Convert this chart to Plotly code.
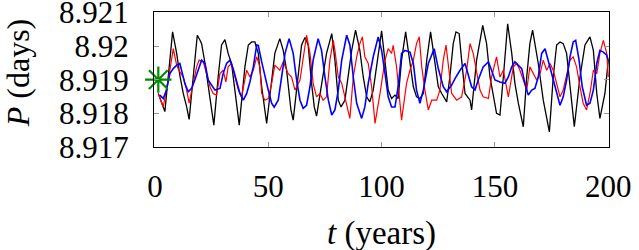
import plotly.graph_objects as go

# ---- data ----
t_black = [1.5, 4.4, 7.8, 9.6, 11.0, 12.5, 14.0, 15.1, 16.9, 18.7, 19.9, 20.6, 22.1, 23.5, 25.0, 26.0,
           27.9, 29.4, 30.9, 32.3, 33.8, 35.3, 37.2, 39.7, 41.2, 42.7, 44.1, 45.6, 47.1, 49.3, 51.5,
           52.9, 55.1, 56.6, 58.1, 60.0, 61.0, 63.2, 64.7, 66.2, 67.6, 69.1, 70.3, 71.3, 73.5, 75.7,
           78.0, 79.4, 80.9, 82.1, 83.8, 85.3, 86.8, 88.5, 90.4, 91.9, 93.4, 94.8, 96.3, 100.0, 101.5,
           102.9, 104.4, 105.9, 107.3, 108.8, 110.6, 112.5, 114.0, 115.4, 116.9, 118.4, 119.9, 121.6,
           123.5, 125.0, 126.5, 128.7, 130.1, 131.6, 132.8, 134.2, 135.3, 136.8, 139.0, 139.7, 141.9,
           144.6, 146.3, 147.8, 150.7, 152.2, 153.7, 154.7, 155.6, 157.4, 158.8, 160.3, 162.5, 164.0,
           165.4, 166.6, 167.6, 169.1, 171.3, 174.0, 175.7, 177.2, 178.7, 180.1, 181.6, 183.1, 185.0,
           187.5, 189.7, 191.9, 193.4, 194.9, 196.3, 198.5, 200.0]
p_black = [8.91859, 8.91805, 8.92042, 8.91978, 8.91913, 8.91859, 8.91819, 8.91782, 8.91908, 8.92032,
           8.92017, 8.92007, 8.91948, 8.91879, 8.91810, 8.91765, 8.91908, 8.92003, 8.92019, 8.91978,
           8.91948, 8.91859, 8.91765, 8.91938, 8.92003, 8.92012, 8.92012, 8.91978, 8.91879, 8.91770,
           8.91908, 8.91978, 8.92022, 8.91987, 8.91928, 8.91810, 8.91780, 8.91908, 8.92003, 8.92025,
           8.92003, 8.91889, 8.91819, 8.91792, 8.91889, 8.91978, 8.92037, 8.91958, 8.91839, 8.91819,
           8.91839, 8.91908, 8.91987, 8.92047, 8.91987, 8.91908, 8.91849, 8.91834, 8.91869, 8.92045,
           8.91958, 8.91869, 8.91844, 8.91854, 8.91844, 8.91958, 8.92042, 8.91958, 8.91879, 8.91849,
           8.91844, 8.91859, 8.91958, 8.92042, 8.91958, 8.91879, 8.91859, 8.91834, 8.91908, 8.92007,
           8.92042, 8.92037, 8.91958, 8.91859, 8.91839, 8.91810, 8.91958, 8.92061, 8.92007, 8.91908,
           8.91800, 8.91795, 8.91908, 8.92007, 8.92066, 8.91978, 8.91889, 8.91830, 8.91760, 8.91908,
           8.92007, 8.92047, 8.92012, 8.91948, 8.91839, 8.91745, 8.91908, 8.92003, 8.92012, 8.92007,
           8.91978, 8.91879, 8.91760, 8.91908, 8.92003, 8.92027, 8.91987, 8.91859, 8.91785, 8.91859,
           8.91958]

t_red = [1.5, 3.7, 6.6, 8.1, 9.6, 11.0, 12.5, 14.0, 15.1, 16.9, 18.4, 19.5, 21.3, 22.8, 24.3, 25.7,
         27.2, 28.7, 30.1, 31.3, 32.3, 33.8, 35.3, 36.8, 38.2, 40.5, 41.9, 43.4, 44.9, 46.3, 47.1,
         48.5, 50.0, 51.5, 52.9, 55.1, 56.6, 58.8, 60.3, 61.8, 64.0, 65.4, 66.9, 68.4, 69.8, 71.3,
         72.8, 74.2, 75.7, 77.2, 78.7, 79.4, 80.9, 82.4, 83.8, 86.0, 87.5, 89.0, 90.4, 91.5, 92.6,
         94.1, 95.6, 97.1, 99.3, 101.5, 102.9, 104.4, 105.1, 106.6, 108.1, 108.8, 111.0, 112.5,
         114.0, 115.4, 116.6, 117.7, 119.1, 120.6, 122.1, 124.3, 125.7, 127.2, 128.4, 129.4, 130.9,
         133.1, 135.3, 137.5, 139.0, 140.4, 141.9, 143.4, 144.8, 147.1, 148.5, 150.7, 152.2, 153.7,
         155.9, 158.1, 159.6, 161.0, 162.5, 164.0, 165.4, 166.9, 168.4, 169.9, 171.3, 172.8, 174.3,
         175.7, 177.2, 178.7, 180.1, 181.6, 183.1, 184.5, 186.0, 187.5, 188.9, 190.4, 191.9, 193.4,
         194.9, 196.3, 197.8, 199.3, 200.0]
p_red = [8.91859, 8.91819, 8.91928, 8.91992, 8.91943, 8.91923, 8.91908, 8.91869, 8.91830, 8.91889,
         8.91938, 8.91958, 8.91953, 8.91918, 8.91879, 8.91859, 8.91854, 8.91918, 8.91928, 8.91893,
         8.91938, 8.91948, 8.91908, 8.91869, 8.91849, 8.91928, 8.91908, 8.91928, 8.91968, 8.91938,
         8.91859, 8.91839, 8.91844, 8.91889, 8.91943, 8.91928, 8.91953, 8.91918, 8.91908, 8.91869,
         8.91899, 8.91958, 8.92032, 8.91978, 8.91889, 8.91849, 8.91859, 8.91839, 8.91849, 8.91958,
         8.92017, 8.91987, 8.91908, 8.91889, 8.91849, 8.91785, 8.91908, 8.91968, 8.92007, 8.92027,
         8.91968, 8.91948, 8.91879, 8.91770, 8.91859, 8.91958, 8.91992, 8.91978, 8.92002, 8.91938,
         8.91830, 8.91780, 8.91889, 8.91928, 8.91958, 8.92007, 8.92027, 8.91938, 8.91869, 8.91810,
         8.91839, 8.91839, 8.91869, 8.91958, 8.92003, 8.91948, 8.91859, 8.91839, 8.91849, 8.91928,
         8.92007, 8.91978, 8.91918, 8.91869, 8.91849, 8.91844, 8.91908, 8.91968, 8.91908, 8.91928,
         8.91849, 8.91938, 8.91948, 8.91928, 8.91899, 8.91869, 8.91938, 8.91918, 8.91899, 8.91918,
         8.91958, 8.91928, 8.91948, 8.91928, 8.91889, 8.91849, 8.91869, 8.91918, 8.91958, 8.91968,
         8.91938, 8.91879, 8.91830, 8.91810, 8.91859, 8.91928, 8.91918, 8.91978, 8.92017, 8.91978,
         8.91908]

t_blue = [2.2, 3.7, 5.1, 6.6, 8.1, 9.6, 11.0, 12.2, 13.2, 14.7, 16.2, 17.6, 19.1, 20.6, 22.1, 23.5,
          25.0, 26.5, 28.7, 30.1, 31.6, 33.1, 34.5, 36.0, 37.5, 39.0, 40.5, 41.9, 43.4, 44.9, 45.6,
          47.1, 48.5, 50.0, 51.5, 52.6, 54.4, 55.9, 57.4, 59.2, 61.0, 62.5, 64.0, 65.4, 66.9, 68.4,
          69.8, 72.0, 73.5, 75.0, 76.5, 78.0, 79.4, 80.9, 82.4, 84.6, 86.0, 87.5, 89.0, 91.2, 92.6,
          94.1, 96.3, 98.5, 100.0, 101.5, 102.9, 104.4, 105.9, 107.3, 108.8, 110.3, 112.5, 114.0,
          115.4, 116.9, 118.4, 120.6, 123.2, 125.0, 127.2, 128.7, 130.9, 132.8, 134.6, 136.8, 138.2,
          139.7, 141.2, 142.6, 144.8, 147.1, 148.5, 150.0, 152.2, 154.4, 155.9, 157.4, 158.8, 160.3,
          161.8, 163.2, 164.7, 166.2, 167.6, 169.1, 170.6, 172.1, 173.5, 175.0, 176.5, 178.7, 180.1,
          181.6, 183.1, 184.5, 185.6, 187.1, 188.5, 190.4, 191.9, 193.4, 194.9, 196.3, 197.8, 199.3,
          200.0]
p_blue = [8.91854, 8.91844, 8.91869, 8.91918, 8.91933, 8.91943, 8.91948, 8.91918, 8.91889, 8.91864,
          8.91874, 8.91899, 8.91928, 8.91958, 8.91948, 8.91899, 8.91884, 8.91869, 8.91874, 8.91918,
          8.91948, 8.91958, 8.91933, 8.91893, 8.91859, 8.91839, 8.91859, 8.91893, 8.91938, 8.92003,
          8.92002, 8.91953, 8.91908, 8.91869, 8.91830, 8.91818, 8.91839, 8.91908, 8.91978, 8.92022,
          8.91978, 8.91899, 8.91839, 8.91815, 8.91824, 8.91879, 8.91958, 8.92022, 8.91987, 8.91908,
          8.91839, 8.91795, 8.91810, 8.91869, 8.91958, 8.92032, 8.92003, 8.91908, 8.91830, 8.91785,
          8.91819, 8.91889, 8.91968, 8.92027, 8.91987, 8.91918, 8.91849, 8.91819, 8.91819, 8.91879,
          8.91978, 8.91987, 8.91982, 8.91948, 8.91869, 8.91830, 8.91869, 8.91948, 8.91992, 8.91933,
          8.91879, 8.91864, 8.91884, 8.91908, 8.91928, 8.91948, 8.91913, 8.91879, 8.91869, 8.91899,
          8.91938, 8.91953, 8.91928, 8.91899, 8.91893, 8.91889, 8.91908, 8.91938, 8.91953, 8.91943,
          8.91933, 8.91889, 8.91854, 8.91869, 8.91874, 8.91908, 8.91978, 8.91992, 8.91958, 8.91918,
          8.91879, 8.91824, 8.91849, 8.91899, 8.91968, 8.92012, 8.92017, 8.91958, 8.91879, 8.91824,
          8.91830, 8.91869, 8.91948, 8.91987, 8.91982, 8.91973, 8.91958]

t_start = [1.5]
p_start = [8.919]

x_ticks = [0, 50, 100, 150, 200]
x_tick_labels = ["0", "50", "100", "150", "200"]
y_ticks = [8.917, 8.918, 8.919, 8.920, 8.921]
y_tick_labels = ["8.917", "8.918", "8.919", "8.92", "8.921"]

FONT = "Liberation Serif"

fig = go.Figure()
fig.add_trace(go.Scatter(x=t_black, y=p_black, mode="lines",
                         line=dict(color="black", width=1.3), showlegend=False))
fig.add_trace(go.Scatter(x=t_red, y=p_red, mode="lines",
                         line=dict(color="#ff0000", width=1.2), showlegend=False))
fig.add_trace(go.Scatter(x=t_blue, y=p_blue, mode="lines",
                         line=dict(color="#0000ff", width=1.6), showlegend=False))
fig.add_trace(go.Scatter(x=t_start, y=p_start, mode="markers",
                         marker=dict(symbol="asterisk-open", size=22, color="#008c00",
                                     line=dict(color="#008c00", width=2.2)),
                         cliponaxis=False, showlegend=False))

fig.update_layout(
    width=639, height=250,
    margin=dict(l=154, r=30, t=12, b=103),
    paper_bgcolor="white", plot_bgcolor="white",
    font=dict(family=FONT, size=31, color="black"),
    xaxis=dict(range=[-0.4, 200.3], tickvals=x_ticks, ticktext=x_tick_labels,
               ticks="inside", ticklen=5, tickcolor="#999999", tickwidth=1,
               showline=True, linecolor="black", linewidth=1, mirror="allticks",
               showgrid=False, zeroline=False, ticklabelstandoff=12, automargin=False,
               ticklabeloverflow="allow", tickfont=dict(family=FONT, size=31)),
    yaxis=dict(range=[8.917, 8.92101], tickvals=y_ticks, ticktext=y_tick_labels,
               ticks="inside", ticklen=5, tickcolor="#999999", tickwidth=1,
               showline=True, linecolor="black", linewidth=1, mirror="allticks",
               showgrid=False, zeroline=False, ticklabelstandoff=18, automargin=False,
               ticklabeloverflow="allow", tickfont=dict(family=FONT, size=31)),
    annotations=[
        dict(text="<i>t</i> (years)", xref="paper", yref="paper", x=0.5, y=-0.64,
             xanchor="center", yanchor="middle", showarrow=False,
             font=dict(family=FONT, size=33)),
        dict(text="<i>P</i> (days)", xref="paper", yref="paper", x=-0.3, y=0.55,
             xanchor="center", yanchor="middle", textangle=-90, showarrow=False,
             font=dict(family=FONT, size=32)),
    ],
)

fig.write_html("out.html", config={"displayModeBar": False},
               post_script="document.body.style.margin='0';document.body.style.padding='0';")
